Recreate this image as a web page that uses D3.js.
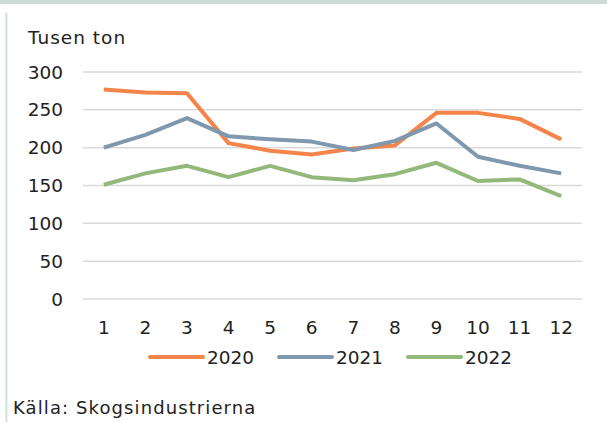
<!DOCTYPE html>
<html>
<head>
<meta charset="utf-8">
<script src="https://cdn.jsdelivr.net/npm/d3@7"></script>
<style>
  body { margin: 0; background: #fff; }
  svg { display: block; font-family: "DejaVu Sans", sans-serif; }
</style>
</head>
<body>
<div id="chart"></div>
<script>
const width = 607;
const height = 422;

// data
const months = [1, 2, 3, 4, 5, 6, 7, 8, 9, 10, 11, 12];
const series = ["2020", "2021", "2022"];
const values2020 = [277, 273, 272, 206, 196, 191, 199, 203, 246, 246, 238, 211];
const values2021 = [200, 217, 239, 215, 211, 208, 197, 209, 232, 188, 176, 166];
const values2022 = [151, 166, 176, 161, 176, 161, 157, 165, 180, 156, 158, 136];
const yTicks = [0, 50, 100, 150, 200, 250, 300];
const colors = {"2020": "#F4844A", "2021": "#7F98AE", "2022": "#93B87A"};

const data = {"2020": values2020, "2021": values2021, "2022": values2022};

const plot = {"left": 83, "right": 582, "top": 72, "bottom": 299};
const textColor = "#222";

let svg = d3.select("#chart").append("svg")
  .attr("width", width)
  .attr("height", height);

// frame: top band and left border
svg.append("rect").attr("x", 0).attr("y", 0).attr("width", width).attr("height", 4).attr("fill", "#CCDBD5");
svg.append("rect").attr("x", 5.5).attr("y", 13).attr("width", 1.8).attr("height", height - 13).attr("fill", "#CCDBD5");

let x = d3.scalePoint()
  .domain(months)
  .range([plot.left, plot.right])
  .padding(0.5);

let y = d3.scaleLinear()
  .domain([0, 300])
  .range([plot.bottom, plot.top]);

// gridlines
svg.append("g")
  .selectAll("line")
  .data(yTicks)
  .enter()
  .append("line")
  .attr("x1", plot.left)
  .attr("x2", plot.right)
  .attr("y1", d => y(d))
  .attr("y2", d => y(d))
  .attr("stroke", "#D9D9D9")
  .attr("stroke-width", 1.5);

// y labels
svg.append("g")
  .selectAll("text")
  .data(yTicks)
  .enter()
  .append("text")
  .attr("x", 63)
  .attr("y", d => y(d))
  .attr("dy", "0.36em")
  .attr("text-anchor", "end")
  .attr("font-size", 18.5)
  .attr("fill", textColor)
  .text(d => d);

// x labels
svg.append("g")
  .selectAll("text")
  .data(months)
  .enter()
  .append("text")
  .attr("x", d => x(d))
  .attr("y", 327)
  .attr("dy", "0.36em")
  .attr("text-anchor", "middle")
  .attr("font-size", 18.5)
  .attr("fill", textColor)
  .text(d => d);

let line = d3.line()
  .x((d, i) => x(months[i]))
  .y(d => y(d));

svg.append("g")
  .selectAll("path")
  .data(series)
  .enter()
  .append("path")
  .attr("d", s => line(data[s]))
  .attr("fill", "none")
  .attr("stroke", s => colors[s])
  .attr("stroke-width", 4)
  .attr("stroke-linejoin", "round");

// legend
const legendX = [150, 279, 408];
let leg = svg.append("g")
  .selectAll("g")
  .data(series)
  .enter()
  .append("g")
  .attr("transform", (s, i) => "translate(" + legendX[i] + ",357)");
leg.append("line")
  .attr("x1", 0).attr("x2", 53)
  .attr("stroke", s => colors[s])
  .attr("stroke-width", 4)
  .attr("stroke-linecap", "round");
leg.append("text")
  .attr("x", 57)
  .attr("dy", "0.36em")
  .attr("font-size", 18.5)
  .attr("fill", textColor)
  .text(s => s);

svg.append("text")
  .attr("x", 28)
  .attr("y", 44)
  .attr("font-size", 18.5)
  .attr("letter-spacing", 1)
  .attr("fill", textColor)
  .text("Tusen ton");

svg.append("text")
  .attr("x", 13)
  .attr("y", 414)
  .attr("font-size", 18)
  .attr("letter-spacing", 1.1)
  .attr("fill", textColor)
  .text("Källa: Skogsindustrierna");
</script>
</body>
</html>
